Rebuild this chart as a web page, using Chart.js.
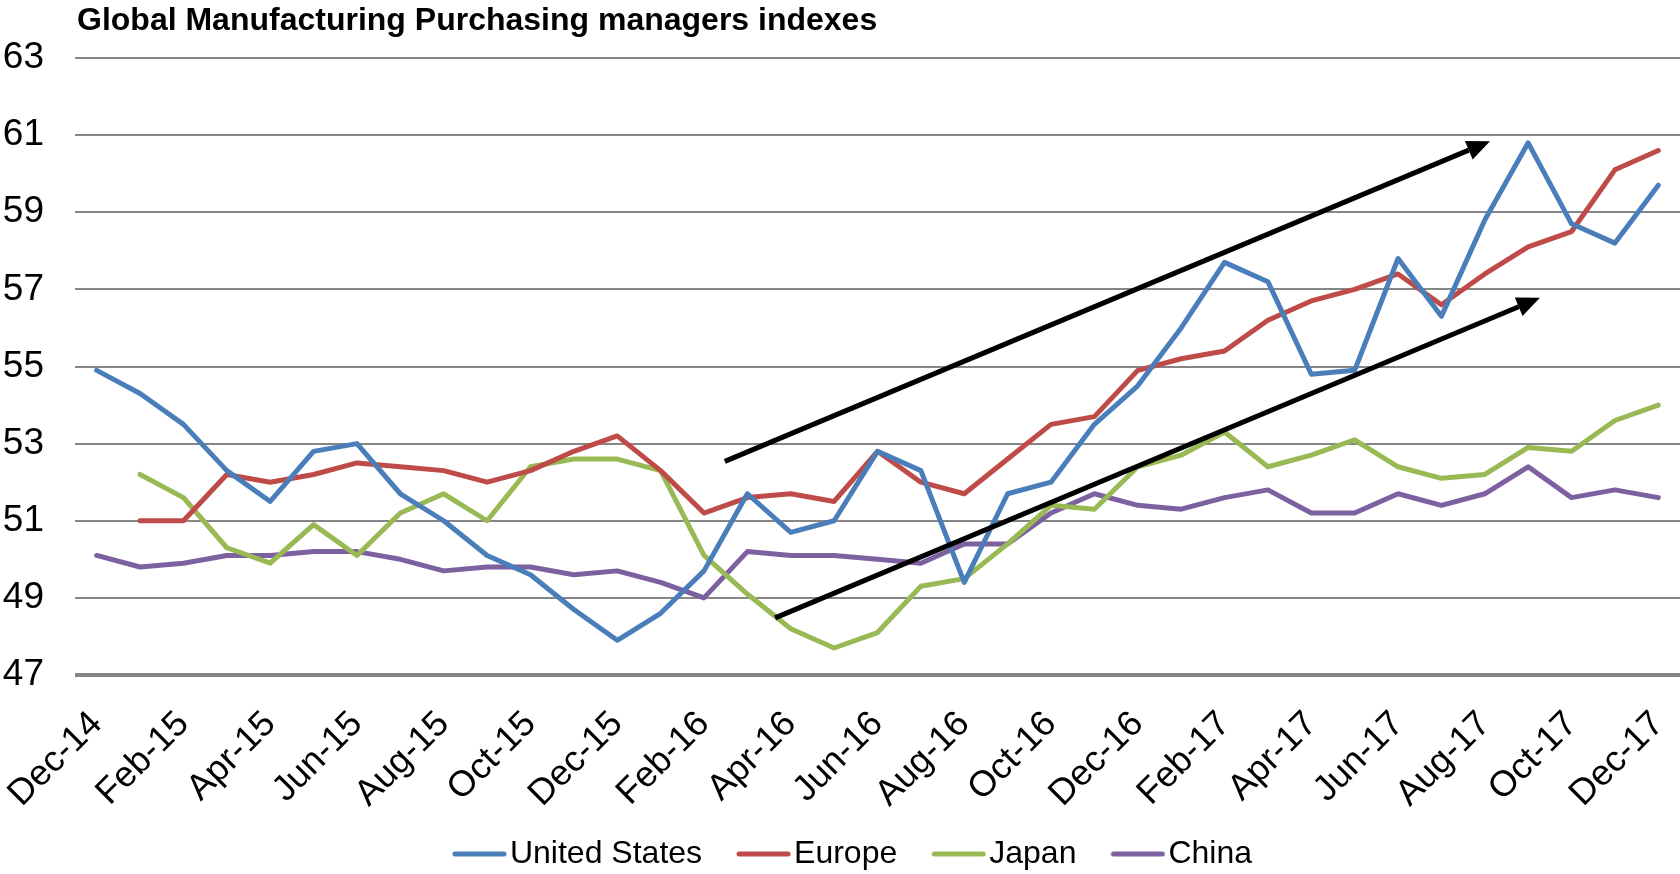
<!DOCTYPE html>
<html>
<head>
<meta charset="utf-8">
<script src="https://cdn.jsdelivr.net/npm/chart.js@4"></script>
<style>
	html, body { margin: 0; padding: 0; background: #fff; overflow: hidden; }
	#wrap { position: relative; width: 1680px; height: 874px; overflow: hidden; }
	#title {
		position: absolute; left: 77px; top: 1px;
		font: bold 32px "Liberation Sans", Arial, sans-serif; color: #000;
		white-space: nowrap;
	}
</style>
</head>
<body>
<div id="wrap">
	<canvas id="pmiChart" width="1680" height="880"></canvas>
	<div id="title">Global Manufacturing Purchasing managers indexes</div>
</div>
<script>
const months = ['Dec-14','Jan-15','Feb-15','Mar-15','Apr-15','May-15','Jun-15','Jul-15','Aug-15','Sep-15','Oct-15','Nov-15',
	'Dec-15','Jan-16','Feb-16','Mar-16','Apr-16','May-16','Jun-16','Jul-16','Aug-16','Sep-16','Oct-16','Nov-16',
	'Dec-16','Jan-17','Feb-17','Mar-17','Apr-17','May-17','Jun-17','Jul-17','Aug-17','Sep-17','Oct-17','Nov-17','Dec-17'];

const unitedStates = [54.9, 54.3, 53.5, 52.3, 51.5, 52.8, 53.0, 51.7, 51.0, 50.1, 49.6, 48.7,
	47.9, 48.6, 49.7, 51.7, 50.7, 51.0, 52.8, 52.3, 49.4, 51.7, 52.0, 53.5,
	54.5, 56.0, 57.7, 57.2, 54.8, 54.9, 57.8, 56.3, 58.8, 60.8, 58.7, 58.2, 59.7];
const europe = [null, 51.0, 51.0, 52.2, 52.0, 52.2, 52.5, 52.4, 52.3, 52.0, 52.3, 52.8,
	53.2, 52.3, 51.2, 51.6, 51.7, 51.5, 52.8, 52.0, 51.7, 52.6, 53.5, 53.7,
	54.9, 55.2, 55.4, 56.2, 56.7, 57.0, 57.4, 56.6, 57.4, 58.1, 58.5, 60.1, 60.6];
const japan = [null, 52.2, 51.6, 50.3, 49.9, 50.9, 50.1, 51.2, 51.7, 51.0, 52.4, 52.6,
	52.6, 52.3, 50.1, 49.1, 48.2, 47.7, 48.1, 49.3, 49.5, 50.4, 51.4, 51.3,
	52.4, 52.7, 53.3, 52.4, 52.7, 53.1, 52.4, 52.1, 52.2, 52.9, 52.8, 53.6, 54.0];
const china = [50.1, 49.8, 49.9, 50.1, 50.1, 50.2, 50.2, 50.0, 49.7, 49.8, 49.8, 49.6,
	49.7, 49.4, 49.0, 50.2, 50.1, 50.1, 50.0, 49.9, 50.4, 50.4, 51.2, 51.7,
	51.4, 51.3, 51.6, 51.8, 51.2, 51.2, 51.7, 51.4, 51.7, 52.4, 51.6, 51.8, 51.6];

const yTicks = [47, 49, 51, 53, 55, 57, 59, 61, 63];

// trend arrows, in chart units: [month index, index value]
const arrowFrom = [[14.48, 52.54], [15.64, 48.48]];
const arrowTo = [[32.12, 60.84], [33.27, 56.78]];

const FONT = '"Liberation Sans", Arial, sans-serif';

const arrowPlugin = {
	id: 'trendArrows',
	afterDatasetsDraw(chart) {
		const ctx = chart.ctx;
		const xs = chart.scales.x, ys = chart.scales.y;
		ctx.save();
		ctx.strokeStyle = '#000';
		ctx.fillStyle = '#000';
		ctx.lineWidth = 5;
		arrowFrom.forEach((from, i) => {
			const x1 = xs.getPixelForValue(from[0]), y1 = ys.getPixelForValue(from[1]);
			const x2 = xs.getPixelForValue(arrowTo[i][0]), y2 = ys.getPixelForValue(arrowTo[i][1]);
			const ang = Math.atan2(y2 - y1, x2 - x1);
			const headLen = 23, headW = 10;
			const bx = x2 - Math.cos(ang) * headLen, by = y2 - Math.sin(ang) * headLen;
			ctx.beginPath();
			ctx.moveTo(x1, y1);
			ctx.lineTo(bx, by);
			ctx.stroke();
			ctx.beginPath();
			ctx.moveTo(x2, y2);
			ctx.lineTo(bx + Math.sin(ang) * headW, by - Math.cos(ang) * headW);
			ctx.lineTo(bx - Math.sin(ang) * headW, by + Math.cos(ang) * headW);
			ctx.closePath();
			ctx.fill();
		});
		ctx.restore();
	}
};

// legend swatch: a short line sitting close to its text
function swatch(color) {
	const c = document.createElement('canvas');
	c.width = 92;
	c.height = 10;
	const g = c.getContext('2d');
	g.strokeStyle = color;
	g.lineWidth = 5;
	g.lineCap = 'round';
	g.beginPath();
	g.moveTo(40, 5);
	g.lineTo(89, 5);
	g.stroke();
	return c;
}

function series(label, data, color) {
	return {
		label: label,
		data: data,
		borderColor: color,
		backgroundColor: color,
		borderWidth: 5,
		pointRadius: 0,
		tension: 0,
		borderJoinStyle: 'round',
		borderCapStyle: 'round'
	};
}

const ctx = document.getElementById('pmiChart').getContext('2d');
new Chart(ctx, {
	type: 'line',
	data: {
		labels: months,
		datasets: [
			series('United States', unitedStates, '#4A7EBB'),
			series('Europe', europe, '#BE4B48'),
			series('Japan', japan, '#98B954'),
			series('China', china, '#7D60A0')
		]
	},
	options: {
		responsive: false,
		animation: false,
		layout: { padding: { top: 58, left: 0, right: 0, bottom: 0 } },
		plugins: {
			title: { display: false },
			tooltip: { enabled: false },
			legend: {
				position: 'bottom',
				labels: {
					usePointStyle: true,
					pointStyleWidth: 66,
					boxHeight: 32,
					padding: 10,
					color: '#000',
					font: { family: FONT, size: 32 },
					generateLabels: chart => Chart.defaults.plugins.legend.labels.generateLabels(chart)
						.map(item => Object.assign(item, { pointStyle: swatch(item.strokeStyle) }))
				}
			}
		},
		scales: {
			x: {
				offset: true,
				grid: { display: false, drawTicks: false },
				border: { display: false },
				ticks: {
					autoSkip: false,
					maxRotation: 45,
					minRotation: 45,
					padding: 28,
					color: '#000',
					font: { family: FONT, size: 36 },
					callback: (v, i) => i % 2 === 0 ? months[i] : ''
				},
				afterFit: s => { s.height = 153; s.paddingLeft = 0; s.paddingRight = 0; }
			},
			y: {
				min: 47,
				max: 63,
				afterBuildTicks: s => { s.ticks = yTicks.map(v => ({ value: v })); },
				grid: {
					drawTicks: false,
					color: '#868686',
					lineWidth: c => c.tick && c.tick.value === 47 ? 4 : 2
				},
				border: { display: false },
				ticks: {
					padding: 31,
					color: '#000',
					font: { family: FONT, size: 37 }
				},
				afterFit: s => { s.width = 75; }
			}
		}
	},
	plugins: [arrowPlugin]
});
</script>
</body>
</html>
